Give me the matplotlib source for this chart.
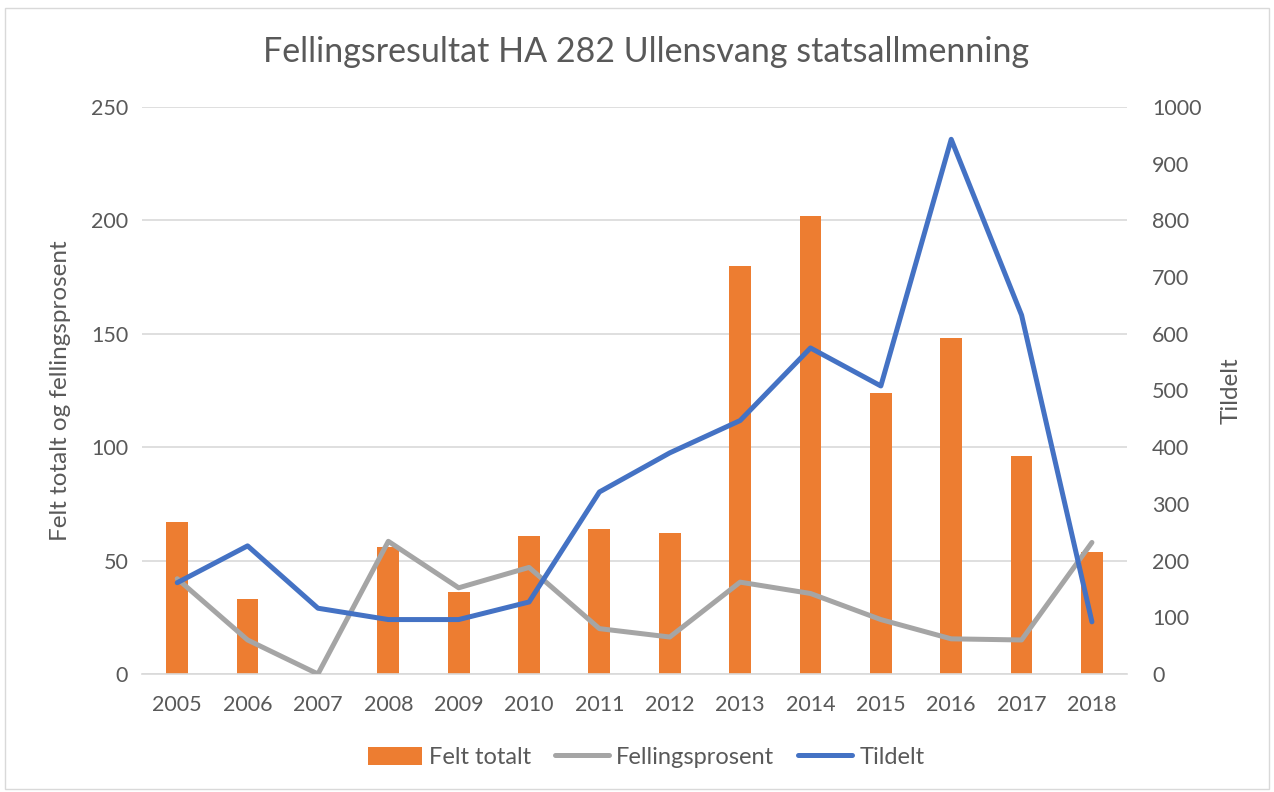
import matplotlib.pyplot as plt
import numpy as np
from matplotlib.patches import Rectangle

plt.rcParams['font.family'] = ['Lato', 'DejaVu Sans']

# Data
years = ['2005', '2006', '2007', '2008', '2009', '2010', '2011',
         '2012', '2013', '2014', '2015', '2016', '2017', '2018']
felt_totalt = [67, 33, 0, 56, 36, 61, 64, 62, 180, 202, 124, 148, 96, 54]
fellingsprosent = [42, 15, 0, 58.5, 38, 47, 20, 16.3, 40.5, 35.5, 24, 15.5, 15, 58]
tildelt = [161, 226, 116, 96, 96, 127, 321, 390, 447, 575, 508, 943, 633, 92]

text_color = '#595959'
grid_color = '#d9d9d9'

fig = plt.figure(figsize=(12.74, 7.92), dpi=100)
fig.patches.append(Rectangle((0.004, 0.004), 0.992, 0.986, transform=fig.transFigure,
                             fill=False, edgecolor='#d9d9d9', linewidth=1))

ax = fig.add_axes([0.1115, 0.149, 0.7732, 0.7159])
x = np.arange(len(years))

bars = ax.bar(x, felt_totalt, width=0.31, color='#ED7D31', label='Felt totalt', zorder=2)
grey, = ax.plot(x, fellingsprosent, color='#A5A5A5', linewidth=3.6, label='Fellingsprosent',
                solid_joinstyle='round', solid_capstyle='round', zorder=3)
ax.set_ylim(0, 250)
ax.set_yticks(range(0, 251, 50))
ax.set_xlim(-0.5, len(years) - 0.5)
ax.set_xticks(x)
ax.set_xticklabels(years)
ax.grid(axis='y', color=grid_color, linewidth=1.2, zorder=0)
ax.set_axisbelow(True)

ax2 = ax.twinx()
blue, = ax2.plot(x, tildelt, color='#4472C4', linewidth=3.6, label='Tildelt',
                 solid_joinstyle='round', solid_capstyle='round')
ax2.set_ylim(0, 1000)
ax2.set_yticks(range(0, 1001, 100))

for a in (ax, ax2):
    for s in a.spines.values():
        s.set_visible(False)
    a.tick_params(length=0, labelsize=15.5, colors=text_color)
ax.tick_params(axis='y', pad=10)
ax.tick_params(axis='x', pad=15)
ax2.tick_params(axis='y', pad=18)
ax.spines['bottom'].set_visible(True)
ax.spines['bottom'].set_color(grid_color)
ax.spines['bottom'].set_linewidth(1.2)

ax.set_ylabel('Felt totalt og fellingsprosent', fontsize=17.5, color=text_color, labelpad=14)
ax2.set_ylabel('Tildelt', fontsize=17.5, color=text_color, labelpad=14)

fig.text(0.507, 0.934, 'Fellingsresultat HA 282 Ullensvang statsallmenning',
         ha='center', va='center', fontsize=24.5, color=text_color)

fig.legend([bars, grey, blue], ['Felt totalt', 'Fellingsprosent', 'Tildelt'],
           loc='center', bbox_to_anchor=(0.507, 0.044), ncol=3,
           frameon=False, fontsize=17, labelcolor=text_color, handlelength=2.3,
           handleheight=0.8, columnspacing=1.0, handletextpad=0.3)

fig.savefig('out.png', dpi=100)
